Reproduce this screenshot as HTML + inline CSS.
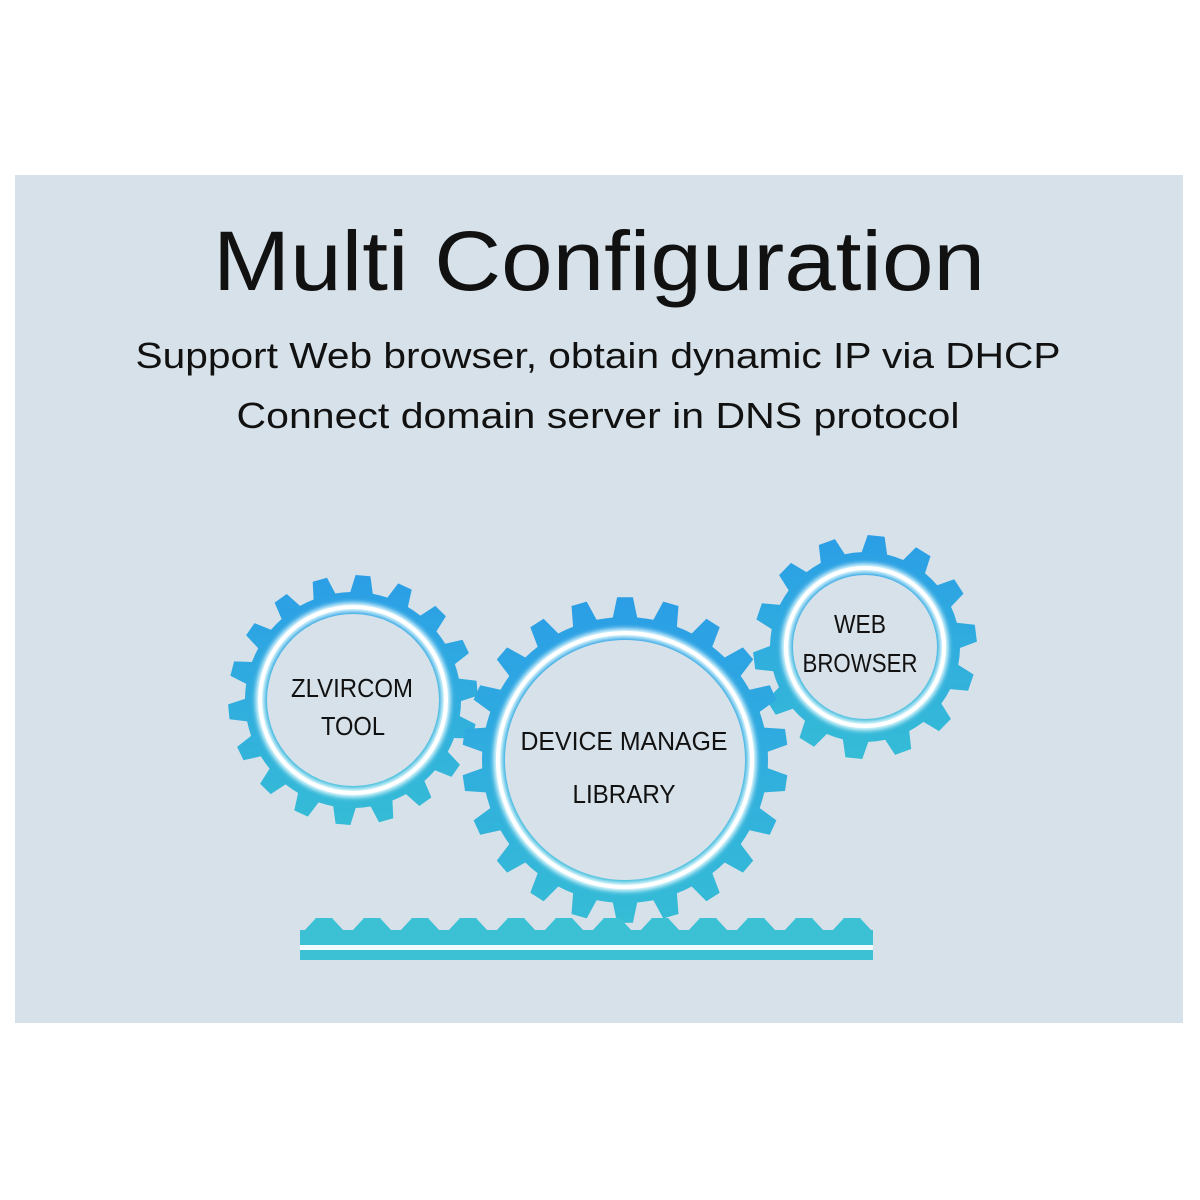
<!DOCTYPE html>
<html><head><meta charset="utf-8"><style>
html,body{margin:0;padding:0;background:#fff;width:1200px;height:1200px;overflow:hidden}
svg{display:block}
</style></head><body>
<svg id="s" width="1200" height="1200" viewBox="0 0 1200 1200" xmlns="http://www.w3.org/2000/svg">
<defs>
<linearGradient id="g" x1="0" y1="0" x2="0" y2="1">
<stop offset="0" stop-color="#2b9ee6"/><stop offset="1" stop-color="#35bcd6"/>
</linearGradient>
<filter id="glow" x="-20%" y="-20%" width="140%" height="140%"><feGaussianBlur stdDeviation="2.5"/></filter>
</defs>
<rect x="15" y="175" width="1168" height="848" fill="#d6e1e9"/>
<g id="gears"></g>
<g fill="#3cc0d4">
<rect x="300" y="930" width="573" height="16"/>
<rect x="300" y="950" width="573" height="10"/>
</g>
<rect x="300" y="945" width="573" height="5" fill="#f2fbfd"/>
<g id="rack" fill="#3cc0d4"></g>
<g font-family="Liberation Sans, sans-serif" fill="#111" text-anchor="middle">
<text x="599" y="290" font-size="84" textLength="772" lengthAdjust="spacingAndGlyphs">Multi Configuration</text>
<text x="598" y="368" font-size="36" textLength="925" lengthAdjust="spacingAndGlyphs">Support Web browser, obtain dynamic IP via DHCP</text>
<text x="598" y="428" font-size="36" textLength="723" lengthAdjust="spacingAndGlyphs">Connect domain server in DNS protocol</text>
<g font-size="26">
<text x="352" y="697" textLength="122" lengthAdjust="spacingAndGlyphs">ZLVIRCOM</text>
<text x="353" y="735" textLength="64" lengthAdjust="spacingAndGlyphs">TOOL</text>
<text x="624" y="750" textLength="207" lengthAdjust="spacingAndGlyphs">DEVICE MANAGE</text>
<text x="624" y="803" textLength="103" lengthAdjust="spacingAndGlyphs">LIBRARY</text>
<text x="860" y="633" textLength="52" lengthAdjust="spacingAndGlyphs">WEB</text>
<text x="860" y="672" textLength="115" lengthAdjust="spacingAndGlyphs">BROWSER</text>
</g>
</g>
</svg>
<script>
var NS="http://www.w3.org/2000/svg";
function gear(cx,cy,rt,rr,n,ring,rot){
  var pts=[];
  for(var i=0;i<n;i++){
    var a=(i/n)*2*Math.PI+rot, s=2*Math.PI/n;
    var A=[[a-s*0.5,rr],[a-s*0.3,rr],[a-s*0.17,rt],[a+s*0.17,rt],[a+s*0.3,rr]];
    A.forEach(function(p){pts.push((cx+p[1]*Math.sin(p[0])).toFixed(1)+","+(cy-p[1]*Math.cos(p[0])).toFixed(1));});
  }
  var g=document.createElementNS(NS,"g");
  g.innerHTML='<polygon points="'+pts.join(" ")+'" fill="url(#g)"/>'+
   '<circle cx="'+cx+'" cy="'+cy+'" r="'+ring+'" fill="none" stroke="#e8fbff" stroke-width="9" filter="url(#glow)"/>'+
   '<circle cx="'+cx+'" cy="'+cy+'" r="'+ring+'" fill="none" stroke="#ffffff" stroke-width="4"/>'+
   '<circle cx="'+cx+'" cy="'+cy+'" r="'+(ring-7)+'" fill="#d6e1e9"/>';
  document.getElementById("gears").appendChild(g);
}
gear(353,700,125,108,18,93,0.08);
gear(865,647,112,95,14,79,0.1);
gear(625,760,163,143,22,127,0);
var r=document.getElementById("rack"),p="";
for(var x=300;x<860;x+=48){p+='<polygon points="'+(x+4)+',931 '+(x+16)+',918 '+(x+32)+',918 '+(x+44)+',931"/>';}
r.innerHTML=p;
</script>
</body></html>
